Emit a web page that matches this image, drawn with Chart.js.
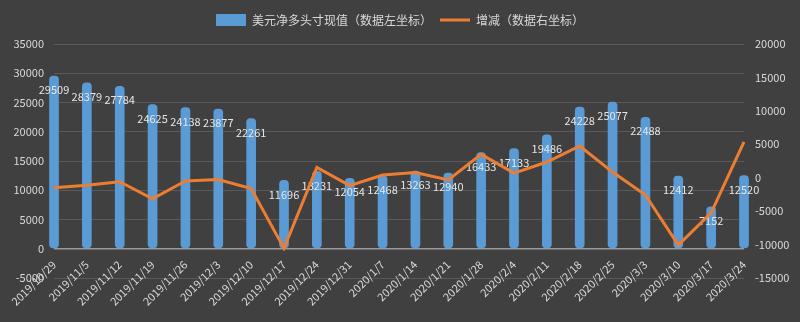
<!DOCTYPE html>
<html>
<head>
<meta charset="utf-8">
<script src="https://cdn.jsdelivr.net/npm/chart.js@4.4.1/dist/chart.umd.min.js"></script>
<style>
    html, body { margin: 0; padding: 0; background: #404040; }
    #wrap { width: 800px; height: 322px; }
</style>
</head>
<body>
<div id="wrap"><canvas id="usdChart" width="800" height="322"></canvas></div>
<script>
// Ngày báo cáo
const weeks = ['2019/10/29', '2019/11/5', '2019/11/12', '2019/11/19', '2019/11/26', '2019/12/3',
    '2019/12/10', '2019/12/17', '2019/12/24', '2019/12/31', '2020/1/7', '2020/1/14', '2020/1/21',
    '2020/1/28', '2020/2/4', '2020/2/11', '2020/2/18', '2020/2/25', '2020/3/3', '2020/3/10',
    '2020/3/17', '2020/3/24'];

// Vị thế ròng (trục trái)
const netLong = [29509, 28379, 27784, 24625, 24138, 23877, 22261, 11696, 13231, 12054, 12468,
    13263, 12940, 16433, 17133, 19486, 24228, 25077, 22488, 12412, 7152, 12520];

// Thay đổi (trục phải)
const change = [-1500, -1130, -595, -3159, -487, -261, -1616, -10565, 1535, -1177, 414,
    795, -323, 3493, 700, 2353, 4742, 849, -2589, -10076, -5260, 5368];

const leftTicks = { min: -5000, max: 35000, step: 5000 };
const rightTicks = { min: -15000, max: 20000, step: 5000 };

const FONT = '"Noto Sans CJK SC", "Noto Sans", sans-serif';
const TEXT = '#d9d9d9';

// Nền tối
const bgPlugin = {
    id: 'bg',
    beforeDraw(chart) {
        const ctx = chart.ctx;
        ctx.save();
        ctx.fillStyle = '#404040';
        ctx.fillRect(0, 0, chart.width, chart.height);
        ctx.restore();
    }
};

// Thêm khoảng cách dưới chú thích
const legendGap = {
    id: 'legendGap',
    beforeInit(chart) {
        const fit = chart.legend.fit;
        chart.legend.fit = function() {
            fit.bind(chart.legend)();
            this.height += 8;
        };
    }
};

// Nhãn giá trị trên cột
const barLabels = {
    id: 'barLabels',
    afterDatasetDraw(chart, args) {
        if (args.index !== 0) return;
        const ctx = chart.ctx;
        ctx.save();
        ctx.font = '11px ' + FONT;
        ctx.fillStyle = '#e6e6e6';
        ctx.textAlign = 'center';
        ctx.textBaseline = 'middle';
        args.meta.data.forEach((bar, i) => {
            ctx.fillText(String(netLong[i]), bar.x, bar.y + 14);
        });
        ctx.restore();
    }
};

const ctx = document.getElementById('usdChart').getContext('2d');
window.usdChart = new Chart(ctx, {
    type: 'bar',
    data: {
        labels: weeks,
        datasets: [{
            type: 'bar',
            label: '美元净多头寸现值（数据左坐标）',
            data: netLong,
            yAxisID: 'yL',
            backgroundColor: '#5B9BD5',
            borderWidth: 0,
            borderRadius: 4,
            borderSkipped: false,
            barThickness: 9,
            clip: false,
            order: 2,
            pointStyle: 'rect'
        }, {
            type: 'line',
            label: '增减（数据右坐标）',
            data: change,
            yAxisID: 'yR',
            borderColor: '#ED7D31',
            backgroundColor: '#ED7D31',
            borderWidth: 3,
            pointRadius: 0,
            tension: 0,
            order: 1,
            pointStyle: 'line'
        }]
    },
    options: {
        responsive: false,
        animation: false,
        layout: { padding: { top: 6, bottom: 34, left: 0, right: 0 } },
        plugins: {
            legend: {
                position: 'top',
                labels: {
                    color: TEXT,
                    font: { family: FONT, size: 12 },
                    usePointStyle: true,
                    pointStyleWidth: 30,
                    boxHeight: 12,
                    padding: 8,
                    sort: (a, b) => a.datasetIndex - b.datasetIndex
                }
            },
            tooltip: { enabled: false }
        },
        scales: {
            x: {
                offset: false,
                grid: { display: false, drawTicks: false },
                border: { display: false },
                ticks: {
                    color: TEXT,
                    font: { family: FONT, size: 11 },
                    minRotation: 45,
                    maxRotation: 45,
                    autoSkip: false,
                    padding: -20
                },
                // nhãn nằm ngay dưới đường 0, không cắt theo khung trục
                afterFit(scale) { scale._computeLabelArea = () => undefined; }
            },
            yL: {
                position: 'left',
                min: leftTicks.min,
                max: leftTicks.max,
                border: { display: false },
                grid: {
                    drawTicks: false,
                    color: c => c.tick && c.tick.value === 0 ? '#9a9a9a' : '#5a5a5a',
                    lineWidth: c => c.tick && c.tick.value === 0 ? 1.5 : 1
                },
                ticks: {
                    stepSize: leftTicks.step,
                    color: TEXT,
                    font: { family: FONT, size: 11 },
                    padding: 10,
                    callback: v => v
                },
                afterFit(scale) { scale.width = 54; }
            },
            yR: {
                position: 'right',
                min: rightTicks.min,
                max: rightTicks.max,
                border: { display: false },
                grid: { display: false, drawTicks: false },
                ticks: {
                    stepSize: rightTicks.step,
                    color: TEXT,
                    font: { family: FONT, size: 11 },
                    padding: 11,
                    callback: v => v
                },
                afterFit(scale) { scale.width = 56; }
            }
        }
    },
    plugins: [bgPlugin, legendGap, barLabels]
});
</script>
</body>
</html>
